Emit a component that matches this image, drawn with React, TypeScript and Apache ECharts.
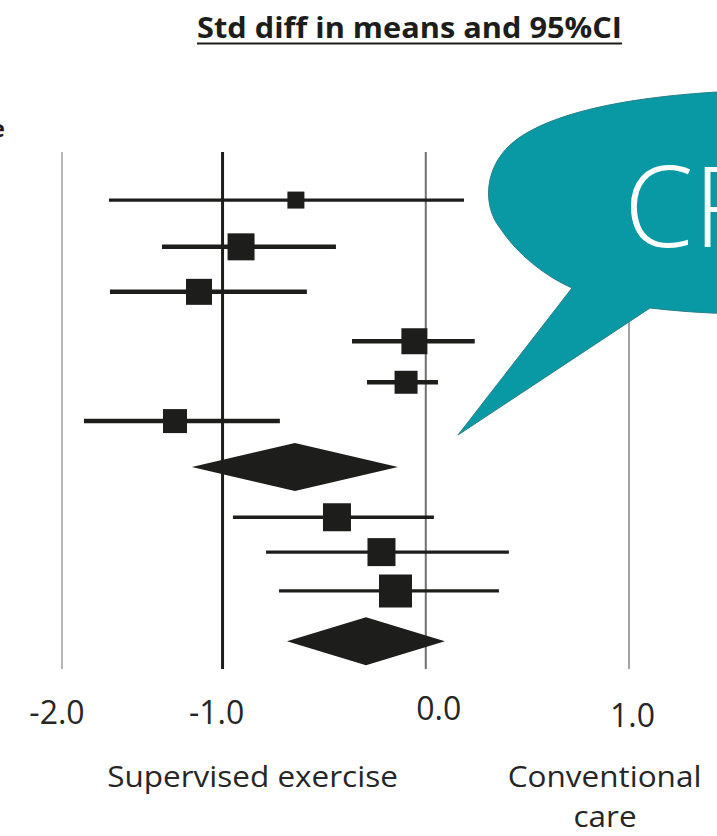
import React, { useEffect, useRef } from "react";
import * as echarts from "echarts";

// ---- data ----
const studyPos = [1.09, 2.15, 3.17, 4.29, 5.22, 6.1, 8.28, 9.07, 9.95];
const studyEst = [-0.639, -0.909, -1.116, -0.056, -0.097, -1.234, -0.437, -0.218, -0.149];
const studyLo = [-1.559, -1.298, -1.554, -0.363, -0.289, -1.682, -0.949, -0.786, -0.722];
const studyHi = [0.188, -0.442, -0.585, 0.241, 0.06, -0.718, 0.04, 0.409, 0.36];
const studyWeight = [17, 27, 26, 26, 23, 24, 28, 28, 33];

const pooledPos = [7.14, 11.09];
const pooledEst = [-0.644, -0.294];
const pooledLo = [-1.151, -0.683];
const pooledHi = [-0.137, 0.094];

const tickValues = [-1.79, -1, 0, 1];
const tickLabels = ["-2.0", "-1.0", "0.0", "1.0"];

const Y_MIN = 0;
const Y_MAX = 11.72;

// ---- styles ----
const INK = "#1d1d1b";
const whiskerWidth = [3.3, 4.5, 4.5, 4.5, 4.5, 4.5, 3.3, 3.3, 3.3];
const refLineStyle = [
  { color: "#b8b8b8", width: 2 },
  { color: INK, width: 3 },
  { color: "#6e6e6e", width: 2 },
  { color: "#a3a3a3", width: 2 },
];
const labelRich = ["m2", "m1", "z0", "p1"];
const FONT = "'Open Sans', 'Noto Sans', sans-serif";

const CALLOUT_D =
  "M 572 288 L 458 435 L 650 308 C 700 314 760 316 820 312 L 820 90 C 700 88 560 100 510 145 C 485 168 482 205 500 228 C 518 255 545 276 572 288 Z";

let registered = false;
function ensureShape() {
  if (registered) return;
  echarts.graphic.registerShape("callout", echarts.graphic.extendPath(CALLOUT_D, {}));
  registered = true;
}

export default function App() {
  const ref = useRef<HTMLDivElement>(null);

  useEffect(() => {
    if (!ref.current) return;
    ensureShape();
    const chart = echarts.init(ref.current, undefined, { renderer: "svg" });

    const studyData = studyPos.map((p, i) => [p, studyEst[i], studyLo[i], studyHi[i], studyWeight[i], i]);
    const pooledData = pooledPos.map((p, i) => [p, pooledEst[i], pooledLo[i], pooledHi[i]]);
    const refData = tickValues.map((v, i) => [v, i]);

    const lbl = { fontSize: 32, fontFamily: FONT, color: "#262626" };

    const option: any = {
      animation: false,
      backgroundColor: "#ffffff",
      grid: { left: 62, right: 0, top: 152, bottom: 167, containLabel: false },
      xAxis: {
        type: "value",
        min: -1.79,
        max: 1.433,
        axisLine: { show: false },
        axisTick: { show: false },
        splitLine: { show: false },
        axisLabel: {
          customValues: tickValues,
          margin: 22,
          showMinLabel: true,
          showMaxLabel: true,
          formatter: (v: number) => {
            let idx = 0;
            let best = Infinity;
            tickValues.forEach((t, i) => {
              if (Math.abs(t - v) < best) {
                best = Math.abs(t - v);
                idx = i;
              }
            });
            return "{" + labelRich[idx] + "|" + tickLabels[idx] + "}";
          },
          rich: {
            m2: { ...lbl, padding: [4, 10, 0, 0] },
            m1: { ...lbl, padding: [4, 12, 0, 0] },
            z0: { ...lbl, padding: [0, 0, 4, 26] },
            p1: { ...lbl, padding: [7, 0, 0, 7] },
          },
        },
      },
      yAxis: { type: "value", inverse: true, min: Y_MIN, max: Y_MAX, show: false },
      series: [
        {
          type: "custom",
          name: "reference",
          z: 1,
          silent: true,
          clip: false,
          data: refData,
          encode: { x: 0 },
          renderItem: (params: any, api: any) => {
            const v = api.value(0);
            const i = api.value(1);
            const a = api.coord([v, Y_MIN]);
            const b = api.coord([v, Y_MAX]);
            const s = refLineStyle[i];
            return {
              type: "line",
              shape: { x1: a[0], y1: a[1], x2: b[0], y2: b[1] },
              style: { stroke: s.color, lineWidth: s.width },
            };
          },
        },
        {
          type: "custom",
          name: "studies",
          z: 3,
          silent: true,
          clip: false,
          data: studyData,
          encode: { x: [1, 2, 3], y: 0 },
          renderItem: (params: any, api: any) => {
            const pos = api.value(0);
            const c = api.coord([api.value(1), pos]);
            const lo = api.coord([api.value(2), pos]);
            const hi = api.coord([api.value(3), pos]);
            const s = api.value(4);
            const idx = api.value(5);
            return {
              type: "group",
              children: [
                {
                  type: "line",
                  shape: { x1: lo[0], y1: c[1], x2: hi[0], y2: c[1] },
                  style: { stroke: INK, lineWidth: whiskerWidth[idx] },
                },
                {
                  type: "rect",
                  shape: { x: c[0] - s / 2, y: c[1] - s / 2, width: s, height: s },
                  style: { fill: INK },
                },
              ],
            };
          },
        },
        {
          type: "custom",
          name: "pooled",
          z: 3,
          silent: true,
          clip: false,
          data: pooledData,
          encode: { x: [1, 2, 3], y: 0 },
          renderItem: (params: any, api: any) => {
            const pos = api.value(0);
            const c = api.coord([api.value(1), pos]);
            const lo = api.coord([api.value(2), pos]);
            const hi = api.coord([api.value(3), pos]);
            const h = 24;
            return {
              type: "polygon",
              shape: {
                points: [
                  [lo[0], c[1]],
                  [c[0], c[1] - h],
                  [hi[0], c[1]],
                  [c[0], c[1] + h],
                ],
              },
              style: { fill: INK },
            };
          },
        },
      ],
      graphic: [
        {
          type: "text",
          x: 409.5,
          y: 27,
          scaleX: 1.06,
          style: {
            text: "Std diff in means and 95%CI",
            fontFamily: FONT,
            fontWeight: "bold",
            fontSize: 29,
            fill: "#1d1d1b",
            align: "center",
            verticalAlign: "middle",
          },
        },
        {
          type: "rect",
          shape: { x: 197, y: 42.5, width: 425, height: 2 },
          style: { fill: "#1d1d1b" },
        },
        {
          type: "text",
          x: 5,
          y: 127,
          style: {
            text: "Study name",
            fontFamily: FONT,
            fontWeight: "bold",
            fontSize: 24,
            fill: "#1d1d1b",
            align: "right",
            verticalAlign: "middle",
          },
        },
        {
          type: "text",
          x: 252.5,
          y: 775,
          scaleX: 1.05,
          style: {
            text: "Supervised exercise",
            fontFamily: FONT,
            fontSize: 30,
            fill: "#262626",
            align: "center",
            verticalAlign: "middle",
          },
        },
        {
          type: "text",
          x: 604.5,
          y: 775,
          scaleX: 1.05,
          style: {
            text: "Conventional",
            fontFamily: FONT,
            fontSize: 30,
            fill: "#262626",
            align: "center",
            verticalAlign: "middle",
          },
        },
        {
          type: "text",
          x: 605,
          y: 815,
          scaleX: 1.05,
          style: {
            text: "care",
            fontFamily: FONT,
            fontSize: 30,
            fill: "#262626",
            align: "center",
            verticalAlign: "middle",
          },
        },
        {
          type: "callout",
          x: 0,
          y: 0,
          z: 20,
          silent: true,
          style: { fill: "#0899a5", stroke: "#2b7f88", lineWidth: 1 },
        },
        {
          type: "text",
          x: 624,
          y: 203,
          z: 21,
          style: {
            text: "CR",
            fontFamily: FONT,
            fontWeight: 300,
            fontSize: 112,
            fill: "#ffffff",
            align: "left",
            verticalAlign: "middle",
          },
        },
      ],
    };

    chart.setOption(option);
    return () => chart.dispose();
  }, []);

  return (
    <div
      ref={ref}
      style={{ position: "fixed", left: 0, top: 0, width: 717, height: 836, background: "#fff" }}
    />
  );
}
